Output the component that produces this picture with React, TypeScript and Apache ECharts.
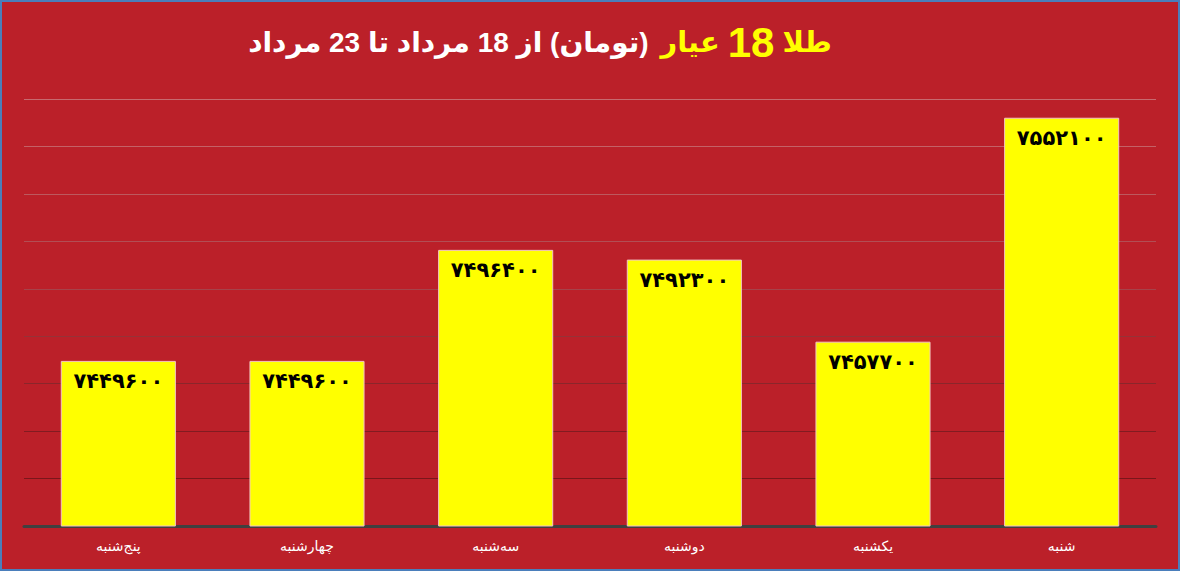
import { useEffect, useRef } from 'react'
import * as echarts from 'echarts'

const days = ['پنج‌شنبه', 'چهارشنبه', 'سه‌شنبه', 'دوشنبه', 'یکشنبه', 'شنبه']
const prices = [7449600, 7449600, 7496400, 7492300, 7457700, 7552100]
const titleWhite = '(تومان) از 18 مرداد تا 23 مرداد'
const titleKarat = 'عیار'
const titleNum = '18'
const titleGold = 'طلا'

// from the baseline up to the top line
const gridColors = ['#8a1c22', '#7a161b', '#821b21', '#8a262b', '#963237', '#a6434a', '#b24e54', '#bc595e', '#c46166', '#c76a6f']

const faDigits = '۰۱۲۳۴۵۶۷۸۹'
const toFa = (n: number) => String(n).replace(/\d/g, (d) => faDigits[Number(d)])

const font = '"Liberation Sans", "DejaVu Sans", sans-serif'

export default function App() {
  const ref = useRef<HTMLDivElement | null>(null)

  useEffect(() => {
    if (!ref.current) return
    const chart = echarts.init(ref.current, null, { renderer: 'svg' })
    chart.setOption({
      animation: false,
      backgroundColor: '#bb2029',
      title: {
        text: `{w|\u202B${titleWhite}\u202C}{y|${titleKarat}}{n|${titleNum}}{y|${titleGold}}`,
        left: 536,
        top: 14,
        textAlign: 'center',
        textStyle: {
          rich: {
            w: { color: '#ffffff', fontSize: 28, fontWeight: 'bold', fontFamily: font, padding: [0, 6, 0, 0] },
            y: { color: '#ffff00', fontSize: 29, fontWeight: 'bold', fontFamily: font, padding: [0, 6, 0, 6] },
            n: { color: '#ffff00', fontSize: 42, fontWeight: 'bold', fontFamily: font, padding: [0, 2, 0, 2] },
          },
        },
      },
      grid: { left: 22, right: 22, top: 97, bottom: 43 },
      xAxis: {
        type: 'category',
        data: days,
        axisLine: { lineStyle: { color: '#404040', width: 3 } },
        axisTick: { show: false },
        axisLabel: { color: '#ffffff', fontSize: 14, fontFamily: font, margin: 13 },
      },
      yAxis: {
        type: 'value',
        min: 7380000,
        max: 7560000,
        interval: 20000,
        axisLabel: { show: false },
        axisLine: { show: false },
        axisTick: { show: false },
        splitLine: { lineStyle: { color: gridColors, width: 1 } },
      },
      series: [
        {
          type: 'bar',
          data: prices,
          barCategoryGap: '39%',
          itemStyle: { color: '#ffff00', borderColor: '#f3c4c4', borderWidth: 1 },
          label: {
            show: true,
            position: 'insideTop',
            distance: 10,
            formatter: (p: any) => toFa(p.value),
            color: '#000000',
            fontSize: 21,
            fontWeight: 'bold',
            fontFamily: '"DejaVu Sans", sans-serif',
          },
        },
      ],
    })
    return () => chart.dispose()
  }, [])

  return (
    <div
      style={{
        position: 'absolute',
        left: 0,
        top: 0,
        width: 1180,
        height: 571,
        boxSizing: 'border-box',
        border: '2px solid #4a7ebb',
        background: '#bb2029',
      }}
    >
      <div ref={ref} style={{ width: 1176, height: 567 }} />
    </div>
  )
}
